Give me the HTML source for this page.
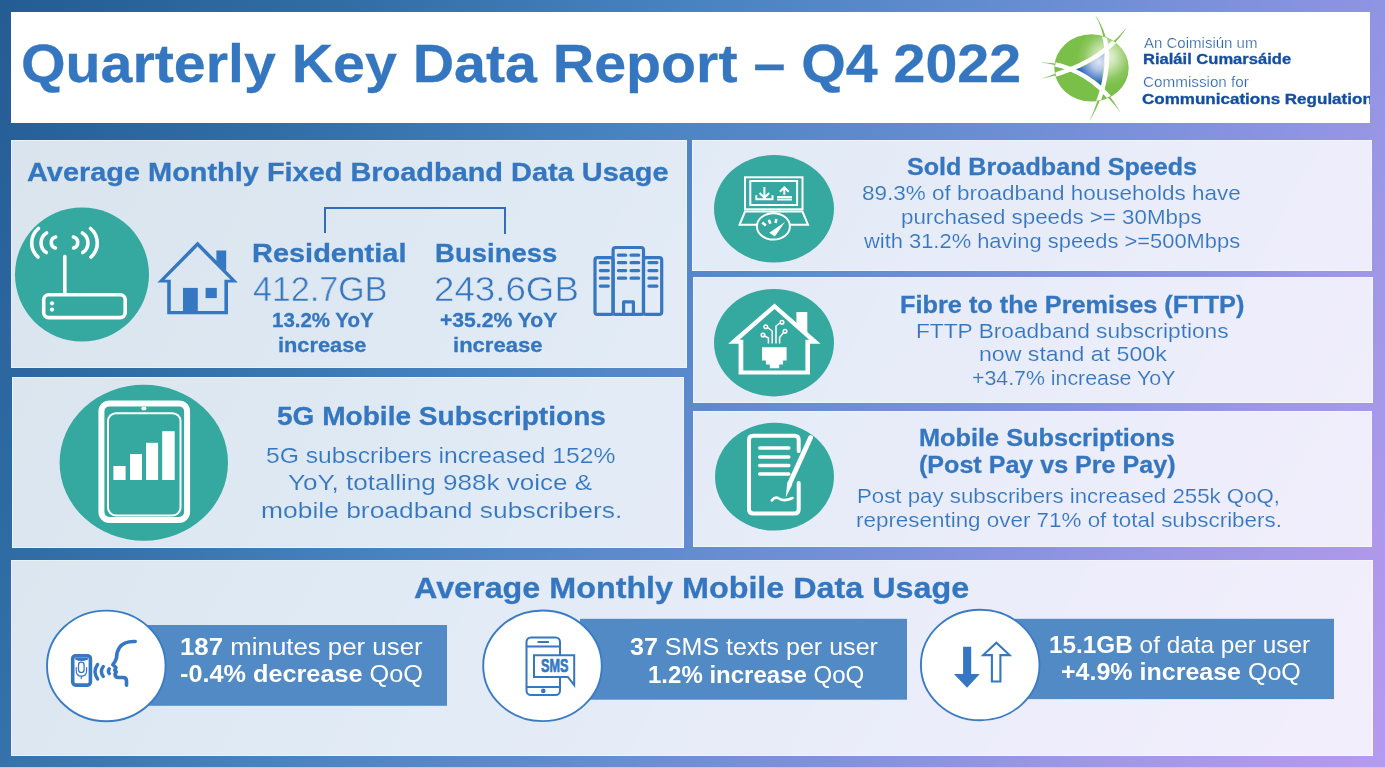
<!DOCTYPE html>
<html><head><meta charset="utf-8"><title>Quarterly Key Data Report – Q4 2022</title>
<style>
html,body{margin:0;padding:0}
body{width:1385px;height:768px;position:relative;overflow:hidden;background:linear-gradient(118.8deg, #245c94 0%, #316ea6 19.4%, #4783c1 38.2%, #678dd2 57%, #8f94e3 76.4%, #9e97e6 83.2%, #a698e9 88.4%, #af98ec 93.4%, #b49af0 100%);font-family:"Liberation Sans",sans-serif}
.hd{position:absolute;left:11px;top:12px;width:1359px;height:111px;background:#fff;overflow:hidden}
.p{position:absolute;background:rgba(255,255,255,0.83);box-shadow:inset 0 0 0 1px rgba(255,255,255,0.4)}
.ov{position:absolute;left:0;top:0}
.t{position:absolute;white-space:nowrap;transform-origin:0 0;will-change:transform}
.t b{font-weight:700}
.strip{position:absolute;left:0;top:767px;width:1385px;height:1px;background:#cdcac5}
</style></head><body>
<div class="hd"></div>
<div class="p" style="left:11px;top:140px;width:676px;height:228px"></div><div class="p" style="left:12px;top:377px;width:672px;height:171px"></div><div class="p" style="left:692px;top:140px;width:680px;height:131px"></div><div class="p" style="left:693px;top:277px;width:680px;height:126px"></div><div class="p" style="left:693px;top:411px;width:679px;height:136px"></div><div class="p" style="left:11px;top:560px;width:1362px;height:196px"></div>

<svg class="ov" width="1385" height="768" viewBox="0 0 1385 768">
<defs>
 <radialGradient id="gg" gradientUnits="userSpaceOnUse" cx="1106" cy="57" r="30">
  <stop offset="0" stop-color="#eef7e6"/>
  <stop offset="0.3" stop-color="#cfe7b8"/>
  <stop offset="0.75" stop-color="#8cc75e"/>
  <stop offset="1" stop-color="#7abf48"/>
 </radialGradient>
 <radialGradient id="tg" gradientUnits="userSpaceOnUse" cx="1099" cy="62" r="22">
  <stop offset="0" stop-color="#dde6f5"/>
  <stop offset="0.35" stop-color="#b4c7e8"/>
  <stop offset="0.75" stop-color="#5a86cc"/>
  <stop offset="1" stop-color="#1f5cb6"/>
 </radialGradient>
 <clipPath id="sph"><ellipse cx="1091.5" cy="67.9" rx="36.6" ry="33.0"/></clipPath>
</defs>
<!-- router -->
<circle cx="82" cy="274.5" r="67" fill="#35a8a0"/>
<g fill="none" stroke="#fff" stroke-width="3.6" stroke-linecap="round">
 <rect x="43.7" y="294.8" width="81.5" height="22.8" rx="5"/>
 <line x1="64.8" y1="256.5" x2="64.8" y2="293"/>
 <path d="M55.6,237 A5.7,5.7 0 0 0 55.4,248"/>
 <path d="M46.6,233 A11.5,11.5 0 0 0 46.3,252.5"/>
 <path d="M38.4,228.5 A18.9,18.9 0 0 0 38,257"/>
 <path d="M73.4,237 A5.7,5.7 0 0 1 73.6,248"/>
 <path d="M82.4,233 A11.5,11.5 0 0 1 82.7,252.5"/>
 <path d="M90.6,228.5 A18.9,18.9 0 0 1 91,257"/>
</g>
<circle cx="52" cy="303.3" r="2.1" fill="#fff"/>
<circle cx="52" cy="309.6" r="2.1" fill="#fff"/>
<!-- house -->
<path fill="#3677c1" fill-rule="evenodd" d="M197.6,241.4 L237.8,282.6 L228,282.6 L228,314.2 L167.2,314.2 L167.2,282.6 L157.4,282.6 Z M197.6,246.6 L230.6,279.8 L224.4,279.8 L224.4,310.9 L170.8,310.9 L170.8,279.8 L164.6,279.8 Z"/>
<path fill="#3677c1" d="M216.4,250.5 H226.2 V271 L216.4,261 Z"/>
<rect x="183" y="287.9" width="14.8" height="24" fill="#3677c1"/>
<rect x="205.6" y="287.9" width="11.2" height="10.2" fill="#3677c1"/>
<!-- bracket -->
<path d="M325,233 V208 H505 V234" fill="none" stroke="#2f6fba" stroke-width="2"/>
<!-- building -->
<g fill="none" stroke="#3677c1" stroke-width="3.2" stroke-linejoin="round">
 <rect x="595" y="257.6" width="18.1" height="56.8" rx="2.5"/>
 <rect x="613.1" y="247.5" width="30.4" height="66.9" rx="2.5"/>
 <rect x="643.5" y="257.6" width="18.2" height="56.8" rx="2.5"/>
 <path d="M623.6,314.4 V301.9 H633.4 V314.4"/>
</g>
<g stroke="#3677c1" stroke-width="3.2" stroke-linecap="round">
 <path d="M600.3,262.7 H608.3 M600.3,270.6 H608.3 M600.3,278.2 H608.3 M600.3,286.1 H608.3"/>
 <path d="M618.4,255.2 H625.7 M631,255.2 H638.7 M618.4,262.7 H625.7 M631,262.7 H638.7 M618.4,270.6 H625.7 M631,270.6 H638.7 M618.4,278.2 H625.7 M631,278.2 H638.7"/>
 <path d="M648.9,262.7 H656.9 M648.9,270.6 H656.9 M648.9,278.2 H656.9 M648.9,286.1 H656.9"/>
</g>
<!-- tablet 5G -->
<ellipse cx="143.8" cy="462.7" rx="84.2" ry="78" fill="#35a8a0"/>
<rect x="101.4" y="403.4" width="85.7" height="116.5" rx="8" fill="none" stroke="#fff" stroke-width="6"/>
<rect x="108" y="413.2" width="72.5" height="102.3" rx="8" fill="none" stroke="#fff" stroke-width="2"/>
<ellipse cx="143.9" cy="408.6" rx="2.6" ry="2" fill="#fff"/>
<rect x="113.4" y="466" width="12.2" height="14" fill="#fff"/>
<rect x="130" y="454.1" width="12" height="25.9" fill="#fff"/>
<rect x="146" y="442.8" width="12.1" height="37.2" fill="#fff"/>
<rect x="162.2" y="431.2" width="12.5" height="48.8" fill="#fff"/>
<!-- laptop -->
<ellipse cx="774" cy="208.8" rx="60" ry="53.7" fill="#35a8a0"/>
<g fill="none" stroke="#fff" stroke-width="2">
 <rect x="745" y="177.3" width="57.5" height="32"/>
 <rect x="750.3" y="181" width="46.8" height="24"/>
 <path d="M745,211.5 H802.5 L808,224.8 H739.5 Z"/>
 <path d="M764.4,187 V197.5 M759.6,193 L764.4,197.8 L769.2,193 M756.3,195.3 V199.3 H772.5 V195.3"/>
 <path d="M784.3,187.8 V194.8 M779.9,191.8 L784.3,187.4 L788.7,191.8 M777,197 H792 M777,199.5 H792"/>
</g>
<ellipse cx="773.4" cy="226.4" rx="16.5" ry="13.2" fill="#35a8a0" stroke="#fff" stroke-width="2"/>
<path d="M769.3,232.8 L785,222 L774.8,236.6 Z" fill="#fff"/>
<g stroke="#fff" stroke-width="2.6" stroke-linecap="butt">
 <path d="M762.3,222.6 L765.8,225.6 M768.8,219.8 L770.4,223.8 M776.3,219 L775.6,223"/>
</g>
<!-- FTTP house -->
<ellipse cx="774" cy="342.7" rx="60" ry="53.7" fill="#35a8a0"/>
<path fill="#fff" fill-rule="evenodd" d="M774.5,303.4 L820.6,343.8 L810,343.8 L810,374.5 L738.6,374.5 L738.6,343.8 L728.1,343.8 Z M774.5,308.9 L809.2,339.8 L805.4,339.8 L805.4,370.6 L743.3,370.6 L743.3,339.8 L739.5,339.8 Z"/>
<path fill="#fff" d="M796.4,312 H807.3 V333 L796.4,323.5 Z"/>
<path fill="#fff" d="M762,347.2 H786.6 V360.5 H783.1 V364.4 H779.2 V368.3 H769.8 V364.4 H765.9 V360.5 H762 Z"/>
<g fill="none" stroke="#fff" stroke-width="1.5">
 <path d="M768.4,343.5 V338 L763.6,335.5"/>
 <path d="M772.2,343.5 V331 L767,327"/>
 <path d="M776,343.5 V326 L780,323"/>
 <path d="M779.6,343.5 V337.5 L783.5,332.5"/>
 <circle cx="763" cy="335" r="1.8"/>
 <circle cx="765.8" cy="326.8" r="1.8"/>
 <circle cx="782" cy="322.2" r="1.8"/>
 <circle cx="785" cy="331.3" r="1.8"/>
</g>
<!-- document -->
<ellipse cx="774.5" cy="476.7" rx="59.5" ry="53.9" fill="#35a8a0"/>
<g fill="none" stroke="#fff" stroke-width="4" stroke-linecap="round">
 <path d="M798.7,451 V440 Q798.7,435.7 794.4,435.7 H753.3 Q749,435.7 749,440 V509.3 Q749,513.6 753.3,513.6 H794.4 Q798.7,513.6 798.7,509.3 V483"/>
 <path d="M759.8,448 H788.8 M759.8,457 H788.8 M759.8,465.5 H788.8 M759.8,474 H788.8" stroke-width="3.6"/>
</g>
<path d="M810.6,437.6 L789.8,483.2" stroke="#fff" stroke-width="4.8" stroke-linecap="round"/>
<path d="M787.3,482.5 L792.3,484.8 L785.7,497.6 Z" fill="#fff"/>
<path d="M771.8,500.5 Q775,496 779,498.5 Q784,502 792.5,498" fill="none" stroke="#fff" stroke-width="2.6" stroke-linecap="round"/>
<!-- bottom boxes -->
<rect x="140" y="625" width="307" height="80.8" fill="#518ac5"/>
<rect x="580" y="618.8" width="327" height="80.9" fill="#518ac5"/>
<rect x="1010" y="618.8" width="324" height="80.3" fill="#518ac5"/>
<ellipse cx="106.3" cy="665.9" rx="59.3" ry="55.3" fill="#fff" stroke="#3a7cc4" stroke-width="1.9"/>
<ellipse cx="542.5" cy="665.8" rx="59.3" ry="55.3" fill="#fff" stroke="#3a7cc4" stroke-width="1.9"/>
<ellipse cx="980.2" cy="665" rx="59.3" ry="55.3" fill="#fff" stroke="#3a7cc4" stroke-width="1.9"/>
<!-- logo -->
<g fill="#79bf47"><path d="M1095.00,14.90 L1096.28,17.27 L1097.48,19.64 L1098.58,22.03 L1099.59,24.44 L1100.50,26.86 L1101.33,29.30 L1102.06,31.75 L1102.71,34.22 L1103.28,36.69 L1103.76,39.18 L1104.16,41.67 L1104.48,44.18 L1104.74,46.68 L1105.01,49.19 L1105.21,51.71 L1105.34,54.23 L1105.40,56.77 L1105.39,59.31 L1105.32,61.85 L1105.18,64.40 L1104.98,66.95 L1104.71,69.50 L1104.39,72.05 L1104.01,74.60 L1103.57,77.15 L1103.07,79.68 L1102.53,82.21 L1101.93,84.74 L1101.28,87.25 L1100.59,89.75 L1099.93,92.26 L1099.24,94.77 L1098.51,97.26 L1097.74,99.74 L1096.93,102.21 L1096.09,104.65 L1095.21,107.08 L1094.29,109.49 L1093.34,111.88 L1092.37,114.24 L1091.36,116.58 L1090.34,118.90 L1089.30,121.20 L1089.30,121.20 L1090.60,119.04 L1091.87,116.84 L1093.10,114.59 L1094.30,112.32 L1095.47,110.01 L1096.60,107.67 L1097.70,105.31 L1098.76,102.91 L1099.79,100.49 L1100.78,98.05 L1101.72,95.58 L1102.63,93.09 L1103.47,90.58 L1104.18,88.02 L1104.84,85.46 L1105.45,82.88 L1106.01,80.29 L1106.52,77.69 L1106.97,75.08 L1107.36,72.47 L1107.69,69.85 L1107.96,67.23 L1108.17,64.60 L1108.32,61.98 L1108.39,59.36 L1108.40,56.74 L1108.34,54.12 L1108.21,51.51 L1108.00,48.91 L1107.71,46.31 L1107.26,43.74 L1106.71,41.19 L1106.08,38.66 L1105.37,36.16 L1104.58,33.67 L1103.70,31.21 L1102.74,28.78 L1101.68,26.38 L1100.54,24.01 L1099.30,21.68 L1097.97,19.37 L1096.54,17.11 L1095.00,14.90 Z"/><path d="M1126.70,27.40 L1125.17,29.25 L1123.62,31.07 L1122.04,32.85 L1120.43,34.58 L1118.78,36.27 L1117.10,37.91 L1115.38,39.51 L1113.64,41.07 L1111.86,42.59 L1110.06,44.07 L1108.22,45.51 L1106.36,46.91 L1104.53,48.34 L1102.68,49.76 L1100.80,51.13 L1098.90,52.47 L1096.96,53.78 L1095.00,55.05 L1093.02,56.29 L1091.01,57.50 L1088.98,58.67 L1086.93,59.81 L1084.86,60.92 L1082.77,62.00 L1080.66,63.05 L1078.53,64.06 L1076.39,65.05 L1074.23,66.01 L1072.06,66.93 L1069.88,67.83 L1067.70,68.76 L1065.54,69.71 L1063.36,70.63 L1061.17,71.52 L1058.97,72.39 L1056.76,73.24 L1054.55,74.07 L1052.33,74.87 L1050.10,75.65 L1047.88,76.41 L1045.65,77.15 L1043.42,77.88 L1041.20,78.60 L1041.20,78.60 L1043.50,78.17 L1045.80,77.70 L1048.10,77.20 L1050.40,76.68 L1052.70,76.12 L1055.01,75.54 L1057.31,74.93 L1059.60,74.29 L1061.90,73.62 L1064.19,72.92 L1066.47,72.20 L1068.75,71.44 L1071.00,70.61 L1073.22,69.70 L1075.43,68.76 L1077.62,67.78 L1079.80,66.78 L1081.97,65.74 L1084.12,64.68 L1086.25,63.58 L1088.37,62.44 L1090.46,61.28 L1092.53,60.08 L1094.58,58.85 L1096.61,57.58 L1098.62,56.28 L1100.60,54.94 L1102.55,53.57 L1104.48,52.16 L1106.37,50.71 L1108.23,49.21 L1110.00,47.60 L1111.72,45.95 L1113.42,44.27 L1115.07,42.55 L1116.68,40.80 L1118.25,39.00 L1119.78,37.17 L1121.26,35.30 L1122.70,33.39 L1124.09,31.43 L1125.43,29.44 L1126.70,27.40 Z"/><path d="M1041.20,62.60 L1043.46,62.88 L1045.71,63.21 L1047.94,63.58 L1050.15,64.02 L1052.35,64.51 L1054.52,65.05 L1056.68,65.65 L1058.82,66.30 L1060.94,67.00 L1063.03,67.75 L1065.11,68.55 L1067.16,69.41 L1069.20,70.29 L1071.25,71.15 L1073.28,72.05 L1075.29,73.00 L1077.28,73.99 L1079.24,75.04 L1081.19,76.13 L1083.11,77.26 L1085.00,78.43 L1086.88,79.65 L1088.72,80.91 L1090.54,82.21 L1092.33,83.55 L1094.09,84.92 L1095.82,86.34 L1097.53,87.79 L1099.20,89.28 L1100.84,90.80 L1102.48,92.32 L1104.13,93.83 L1105.76,95.38 L1107.35,96.96 L1108.91,98.57 L1110.44,100.21 L1111.93,101.89 L1113.39,103.59 L1114.82,105.32 L1116.21,107.08 L1117.57,108.87 L1118.90,110.67 L1120.20,112.50 L1120.20,112.50 L1119.16,110.51 L1118.06,108.55 L1116.90,106.61 L1115.70,104.69 L1114.45,102.79 L1113.16,100.92 L1111.82,99.08 L1110.44,97.26 L1109.02,95.46 L1107.56,93.70 L1106.06,91.96 L1104.52,90.25 L1102.90,88.62 L1101.22,87.06 L1099.50,85.53 L1097.75,84.04 L1095.96,82.58 L1094.15,81.16 L1092.31,79.79 L1090.44,78.45 L1088.54,77.15 L1086.61,75.90 L1084.66,74.69 L1082.68,73.52 L1080.68,72.40 L1078.65,71.33 L1076.60,70.30 L1074.53,69.32 L1072.43,68.39 L1070.32,67.51 L1068.15,66.77 L1065.96,66.09 L1063.76,65.47 L1061.54,64.91 L1059.32,64.41 L1057.08,63.96 L1054.83,63.57 L1052.58,63.25 L1050.31,62.98 L1048.04,62.78 L1045.77,62.65 L1043.48,62.58 L1041.20,62.60 Z"/></g><ellipse cx="1091.5" cy="67.9" rx="37.2" ry="33.6" fill="url(#gg)"/><path d="M1075.0,69.6 Q1091,65 1104.8,52.4 Q1102.8,69 1101.5,85.6 Q1090,75.5 1075.0,69.6 Z" fill="url(#tg)"/><g fill="#fff" clip-path="url(#sph)"><path d="M1093.13,16.05 L1094.52,18.31 L1095.79,20.56 L1096.97,22.83 L1098.06,25.13 L1099.06,27.46 L1099.97,29.80 L1100.79,32.17 L1101.53,34.56 L1102.19,36.97 L1102.77,39.40 L1103.27,41.84 L1103.70,44.30 L1104.04,46.77 L1104.31,49.26 L1104.51,51.75 L1104.64,54.26 L1104.70,56.78 L1104.69,59.30 L1104.62,61.82 L1104.48,64.36 L1104.28,66.89 L1104.02,69.42 L1103.69,71.96 L1103.31,74.49 L1102.88,77.02 L1102.39,79.54 L1101.84,82.06 L1101.25,84.57 L1100.60,87.07 L1099.91,89.55 L1099.17,92.03 L1098.39,94.49 L1097.57,96.93 L1096.70,99.36 L1095.80,101.77 L1094.85,104.16 L1093.88,106.52 L1092.86,108.86 L1091.82,111.18 L1090.75,113.47 L1089.64,115.73 L1088.51,117.96 L1087.35,120.18 L1091.25,122.22 L1092.43,119.98 L1093.58,117.69 L1094.72,115.37 L1095.82,113.02 L1096.89,110.64 L1097.93,108.23 L1098.93,105.80 L1099.90,103.35 L1100.83,100.87 L1101.72,98.38 L1102.57,95.86 L1103.38,93.32 L1104.14,90.77 L1104.85,88.21 L1105.52,85.62 L1106.14,83.03 L1106.70,80.43 L1107.21,77.81 L1107.66,75.19 L1108.05,72.56 L1108.39,69.93 L1108.66,67.29 L1108.87,64.65 L1109.02,62.01 L1109.09,59.37 L1109.10,56.73 L1109.04,54.10 L1108.90,51.47 L1108.69,48.84 L1108.41,46.23 L1108.04,43.62 L1107.60,41.03 L1107.07,38.45 L1106.46,35.88 L1105.76,33.33 L1104.97,30.79 L1104.10,28.28 L1103.13,25.79 L1102.07,23.32 L1100.91,20.88 L1099.66,18.46 L1098.30,16.07 L1096.87,13.75 Z"/><path d="M1124.91,26.12 L1123.53,28.04 L1122.12,29.90 L1120.67,31.72 L1119.17,33.50 L1117.64,35.24 L1116.07,36.95 L1114.47,38.61 L1112.82,40.23 L1111.15,41.82 L1109.43,43.37 L1107.69,44.88 L1105.91,46.35 L1104.10,47.79 L1102.26,49.19 L1100.39,50.56 L1098.50,51.90 L1096.57,53.20 L1094.63,54.46 L1092.65,55.69 L1090.65,56.89 L1088.63,58.06 L1086.59,59.20 L1084.53,60.30 L1082.45,61.37 L1080.35,62.42 L1078.23,63.43 L1076.10,64.41 L1073.95,65.36 L1071.79,66.29 L1069.61,67.18 L1067.43,68.05 L1065.23,68.89 L1063.02,69.71 L1060.81,70.49 L1058.58,71.26 L1056.35,71.99 L1054.12,72.70 L1051.88,73.39 L1049.64,74.05 L1047.40,74.69 L1045.15,75.30 L1042.91,75.90 L1040.66,76.47 L1041.74,80.73 L1044.01,80.15 L1046.30,79.55 L1048.58,78.93 L1050.87,78.28 L1053.15,77.60 L1055.43,76.90 L1057.71,76.18 L1059.99,75.43 L1062.26,74.65 L1064.52,73.84 L1066.78,73.01 L1069.02,72.15 L1071.26,71.26 L1073.49,70.35 L1075.71,69.40 L1077.91,68.42 L1080.10,67.41 L1082.28,66.37 L1084.44,65.30 L1086.58,64.20 L1088.70,63.06 L1090.80,61.89 L1092.89,60.69 L1094.95,59.45 L1096.99,58.17 L1099.01,56.86 L1101.00,55.52 L1102.96,54.14 L1104.90,52.72 L1106.81,51.26 L1108.68,49.77 L1110.53,48.23 L1112.35,46.66 L1114.13,45.05 L1115.88,43.40 L1117.60,41.70 L1119.27,39.97 L1120.91,38.19 L1122.51,36.37 L1124.07,34.51 L1125.59,32.60 L1127.07,30.65 L1128.49,28.68 Z"/><path d="M1041.07,64.80 L1043.32,64.93 L1045.52,65.12 L1047.71,65.37 L1049.90,65.67 L1052.07,66.04 L1054.23,66.46 L1056.37,66.94 L1058.51,67.48 L1060.62,68.07 L1062.73,68.71 L1064.81,69.40 L1066.88,70.15 L1068.94,70.94 L1070.97,71.79 L1072.99,72.69 L1074.98,73.63 L1076.96,74.62 L1078.91,75.65 L1080.84,76.73 L1082.75,77.86 L1084.63,79.02 L1086.49,80.23 L1088.32,81.48 L1090.13,82.77 L1091.90,84.10 L1093.65,85.47 L1095.38,86.88 L1097.07,88.32 L1098.73,89.80 L1100.36,91.31 L1101.96,92.85 L1103.52,94.43 L1105.05,96.04 L1106.55,97.68 L1108.01,99.34 L1109.43,101.04 L1110.82,102.77 L1112.17,104.52 L1113.48,106.29 L1114.75,108.09 L1115.98,109.92 L1117.17,111.76 L1118.33,113.65 L1122.07,111.35 L1120.89,109.42 L1119.65,107.49 L1118.37,105.59 L1117.04,103.72 L1115.68,101.87 L1114.27,100.04 L1112.83,98.25 L1111.35,96.48 L1109.83,94.74 L1108.27,93.04 L1106.68,91.36 L1105.05,89.72 L1103.38,88.11 L1101.69,86.54 L1099.96,85.00 L1098.19,83.50 L1096.40,82.03 L1094.58,80.61 L1092.72,79.22 L1090.84,77.88 L1088.93,76.57 L1086.99,75.31 L1085.02,74.09 L1083.03,72.92 L1081.01,71.79 L1078.97,70.71 L1076.91,69.67 L1074.82,68.68 L1072.71,67.75 L1070.58,66.86 L1068.43,66.03 L1066.25,65.24 L1064.06,64.52 L1061.86,63.84 L1059.63,63.22 L1057.39,62.66 L1055.13,62.16 L1052.86,61.71 L1050.57,61.33 L1048.27,61.00 L1045.96,60.74 L1043.63,60.54 L1041.33,60.40 Z"/></g>
<!-- face/phone icon -->
<g fill="none" stroke="#3577c2" stroke-linecap="round" stroke-linejoin="round">
 <rect x="72.7" y="655.7" width="17.7" height="29.4" rx="3" stroke-width="3.6"/>
 <rect x="78.5" y="662.2" width="5.6" height="10.4" rx="2.8" stroke-width="1.3"/>
 <path d="M76.2,667.5 V670.5 Q76.2,676.2 81.3,676.2 Q86.6,676.2 86.6,670.5 V667.5 M81.3,676.2 V678.5" stroke-width="1.2"/>
 <path d="M97.6,664.5 Q92.5,671.7 97.6,679" stroke-width="3.4"/>
 <path d="M103.3,666.5 Q99.5,671.5 103.3,676.5" stroke-width="3.4"/>
 <path d="M109.3,668.8 Q107.5,671.2 109.3,673.6" stroke-width="3.4"/>
 <path d="M135.2,641.5 Q124,641 119.5,647.5 Q116.5,652 116.5,658 Q115.5,661.5 112.8,664.6 L116,667.5 L114.8,670.3 L116.3,672 L115,674 Q115,677.5 118.5,677.5 H123 Q126.5,677.5 126.5,681 V685.3" stroke-width="3.6"/>
</g>
<path d="M75.2,657.6 H88 V659.5 Q81.6,662.5 75.2,659.5 Z" fill="#3577c2"/>
<!-- sms icon -->
<g fill="none" stroke="#3577c2" stroke-width="2">
 <rect x="526.5" y="637.4" width="33.5" height="57.7" rx="4.5"/>
 <path d="M526.5,646.4 H560 M526.5,687 H560"/>
 <path d="M538.3,641.9 H548.2" stroke-linecap="round"/>
 <circle cx="543.3" cy="690.9" r="1.3" fill="#3577c2"/>
 <path d="M534,655.2 H574.2 V685 L567.8,676.9 H534 Z" fill="#fff"/>
</g>
<text x="0" y="0" transform="translate(541,672.4) scale(0.68,1)" font-family="Liberation Sans" font-weight="700" font-size="18.6" fill="#3577c2" stroke="#3577c2" stroke-width="0.7">SMS</text>
<!-- arrows icon -->
<path d="M963.1,646.7 H971.2 V674.1 H979.8 L967,687.7 L954,674.1 H963.1 Z" fill="#3577c2"/>
<path d="M996.4,642.7 L1009.6,655.1 H1000.4 V681.5 H991.9 V655.1 H983.2 Z" fill="none" stroke="#3577c2" stroke-width="2.1" stroke-linejoin="miter"/>
</svg>

<div class="clip" style="position:absolute;left:0;top:0;width:1370px;height:768px;overflow:hidden">
<div class="t" style="left:20.90px;top:37.00px;font-size:54.51px;line-height:54.51px;font-weight:700;color:#3476bf;transform:scaleX(1.0514);-webkit-text-stroke:0.30px #3476bf">Quarterly Key Data Report – Q4 2022</div>
<div class="t" style="left:1143.70px;top:35.60px;font-size:14.97px;line-height:14.97px;font-weight:400;color:#2f66ae;transform:scaleX(1.0027);-webkit-text-stroke:0.2px #fff">An Coimisiún um</div>
<div class="t" style="left:1143.25px;top:52.40px;font-size:14.39px;line-height:14.39px;font-weight:700;color:#134fa0;transform:scaleX(1.1512);-webkit-text-stroke:0.30px #134fa0">Rialáil Cumarsáide</div>
<div class="t" style="left:1142.65px;top:75.30px;font-size:14.53px;line-height:14.53px;font-weight:400;color:#2f66ae;transform:scaleX(1.0500);-webkit-text-stroke:0.2px #fff">Commission for</div>
<div class="t" style="left:1142.49px;top:92.20px;font-size:14.10px;line-height:14.10px;font-weight:700;color:#134fa0;transform:scaleX(1.2079);-webkit-text-stroke:0.30px #134fa0">Communications Regulation</div>
<div class="t" style="left:26.79px;top:159.00px;font-size:26.02px;line-height:26.02px;font-weight:700;color:#3476bf;transform:scaleX(1.1113);-webkit-text-stroke:0.30px #3476bf">Average Monthly Fixed Broadband Data Usage</div>
<div class="t" style="left:251.79px;top:239.80px;font-size:26.16px;line-height:26.16px;font-weight:700;color:#3476bf;transform:scaleX(1.1066);-webkit-text-stroke:0.30px #3476bf">Residential</div>
<div class="t" style="left:434.60px;top:239.80px;font-size:26.16px;line-height:26.16px;font-weight:700;color:#3476bf;transform:scaleX(1.0522);-webkit-text-stroke:0.30px #3476bf">Business</div>
<div class="t" style="left:253.04px;top:271.60px;font-size:35.61px;line-height:35.61px;font-weight:400;color:#3476bf;transform:scaleX(0.9565);-webkit-text-stroke:0.6px #dee6f0">412.7GB</div>
<div class="t" style="left:433.94px;top:271.60px;font-size:35.61px;line-height:35.61px;font-weight:400;color:#3476bf;transform:scaleX(1.0307);-webkit-text-stroke:0.6px #dfe6f0">243.6GB</div>
<div class="t" style="left:271.98px;top:309.80px;font-size:20.06px;line-height:20.06px;font-weight:700;color:#3476bf;transform:scaleX(1.0204);-webkit-text-stroke:0.30px #3476bf">13.2% YoY</div>
<div class="t" style="left:277.91px;top:334.60px;font-size:20.06px;line-height:20.06px;font-weight:700;color:#3476bf;transform:scaleX(1.0875);-webkit-text-stroke:0.30px #3476bf">increase</div>
<div class="t" style="left:439.95px;top:309.80px;font-size:20.06px;line-height:20.06px;font-weight:700;color:#3476bf;transform:scaleX(1.0545);-webkit-text-stroke:0.30px #3476bf">+35.2% YoY</div>
<div class="t" style="left:452.90px;top:334.60px;font-size:20.06px;line-height:20.06px;font-weight:700;color:#3476bf;transform:scaleX(1.1000);-webkit-text-stroke:0.30px #3476bf">increase</div>
<div class="t" style="left:277.11px;top:404.40px;font-size:25.73px;line-height:25.73px;font-weight:700;color:#3476bf;transform:scaleX(1.0907);-webkit-text-stroke:0.30px #3476bf">5G Mobile Subscriptions</div>
<div class="t" style="left:265.78px;top:444.80px;font-size:21.95px;line-height:21.95px;font-weight:400;color:#3476bf;transform:scaleX(1.1236);-webkit-text-stroke:0.15px #e0eaf4">5G subscribers increased 152%</div>
<div class="t" style="left:288.21px;top:472.20px;font-size:21.95px;line-height:21.95px;font-weight:400;color:#3476bf;transform:scaleX(1.1875);-webkit-text-stroke:0.15px #e0eaf5">YoY, totalling 988k voice &amp;</div>
<div class="t" style="left:260.60px;top:499.50px;font-size:21.95px;line-height:21.95px;font-weight:400;color:#3476bf;transform:scaleX(1.2044);-webkit-text-stroke:0.15px #e0eaf5">mobile broadband subscribers.</div>
<div class="t" style="left:906.77px;top:154.80px;font-size:24.42px;line-height:24.42px;font-weight:700;color:#3476bf;transform:scaleX(1.0282);-webkit-text-stroke:0.30px #3476bf">Sold Broadband Speeds</div>
<div class="t" style="left:861.91px;top:182.90px;font-size:20.71px;line-height:20.71px;font-weight:400;color:#3476bf;transform:scaleX(1.0862);-webkit-text-stroke:0.15px #e8ecf8">89.3% of broadband households have</div>
<div class="t" style="left:900.92px;top:206.60px;font-size:20.71px;line-height:20.71px;font-weight:400;color:#3476bf;transform:scaleX(1.0791);-webkit-text-stroke:0.15px #e8ecf9">purchased speeds &gt;= 30Mbps</div>
<div class="t" style="left:863.90px;top:231.20px;font-size:20.71px;line-height:20.71px;font-weight:400;color:#3476bf;transform:scaleX(1.0575);-webkit-text-stroke:0.15px #e8ecf9">with 31.2% having speeds &gt;=500Mbps</div>
<div class="t" style="left:900.43px;top:292.90px;font-size:24.42px;line-height:24.42px;font-weight:700;color:#3476bf;transform:scaleX(1.0365);-webkit-text-stroke:0.30px #3476bf">Fibre to the Premises (FTTP)</div>
<div class="t" style="left:916.18px;top:320.90px;font-size:20.44px;line-height:20.44px;font-weight:400;color:#3476bf;transform:scaleX(1.1111);-webkit-text-stroke:0.15px #eaecf9">FTTP Broadband subscriptions</div>
<div class="t" style="left:978.87px;top:344.00px;font-size:20.44px;line-height:20.44px;font-weight:400;color:#3476bf;transform:scaleX(1.1315);-webkit-text-stroke:0.15px #eaecf9">now stand at 500k</div>
<div class="t" style="left:971.66px;top:368.10px;font-size:20.44px;line-height:20.44px;font-weight:400;color:#3476bf;transform:scaleX(1.0435);-webkit-text-stroke:0.15px #eaecf9">+34.7% increase YoY</div>
<div class="t" style="left:919.24px;top:426.00px;font-size:24.56px;line-height:24.56px;font-weight:700;color:#3476bf;transform:scaleX(1.0306);-webkit-text-stroke:0.30px #3476bf">Mobile Subscriptions</div>
<div class="t" style="left:919.38px;top:453.00px;font-size:24.56px;line-height:24.56px;font-weight:700;color:#3476bf;transform:scaleX(1.0217);-webkit-text-stroke:0.30px #3476bf">(Post Pay vs Pre Pay)</div>
<div class="t" style="left:857.39px;top:485.80px;font-size:20.16px;line-height:20.16px;font-weight:400;color:#3476bf;transform:scaleX(1.1040);-webkit-text-stroke:0.15px #ebedfa">Post pay subscribers increased 255k QoQ,</div>
<div class="t" style="left:856.19px;top:510.20px;font-size:20.16px;line-height:20.16px;font-weight:400;color:#3476bf;transform:scaleX(1.1116);-webkit-text-stroke:0.15px #ebedfa">representing over 71% of total subscribers.</div>
<div class="t" style="left:414.33px;top:572.70px;font-size:30.23px;line-height:30.23px;font-weight:700;color:#3476bf;transform:scaleX(1.0689);-webkit-text-stroke:0.30px #3476bf">Average Monthly Mobile Data Usage</div>
<div class="t" style="left:180.42px;top:635.10px;font-size:23.89px;line-height:23.89px;font-weight:400;color:#ffffff;transform:scaleX(1.0816)"><b>187</b> minutes per user</div>
<div class="t" style="left:180.44px;top:662.30px;font-size:23.89px;line-height:23.89px;font-weight:400;color:#ffffff;transform:scaleX(1.0579)"><b>-0.4% decrease</b> QoQ</div>
<div class="t" style="left:630.44px;top:635.00px;font-size:23.75px;line-height:23.75px;font-weight:400;color:#ffffff;transform:scaleX(1.0551)"><b>37</b> SMS texts per user</div>
<div class="t" style="left:647.69px;top:662.80px;font-size:23.75px;line-height:23.75px;font-weight:400;color:#ffffff;transform:scaleX(1.0113)"><b>1.2% increase</b> QoQ</div>
<div class="t" style="left:1049.38px;top:633.00px;font-size:23.75px;line-height:23.75px;font-weight:400;color:#ffffff;transform:scaleX(1.0244)"><b>15.1GB</b> of data per user</div>
<div class="t" style="left:1060.95px;top:659.60px;font-size:23.75px;line-height:23.75px;font-weight:400;color:#ffffff;transform:scaleX(1.0527)"><b>+4.9% increase</b> QoQ</div>
</div>
<div class="strip"></div>
</body></html>
